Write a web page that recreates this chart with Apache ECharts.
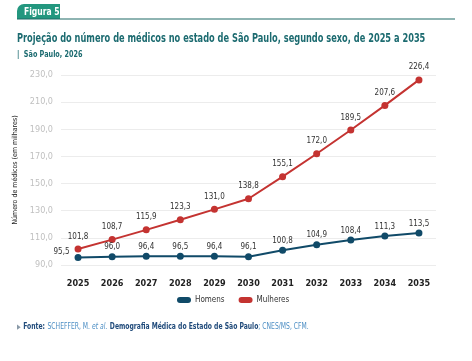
<!DOCTYPE html>
<html><head><meta charset="utf-8">
<script src="https://cdn.jsdelivr.net/npm/echarts@6/dist/echarts.min.js"></script>
<style>html,body{margin:0;padding:0;background:#fff}#c{width:472px;height:361px}</style>
</head><body><div id="c"></div>
<script>
var years = ['2025','2026','2027','2028','2029','2030','2031','2032','2033','2034','2035'];
var homens = [95.5, 96.0, 96.4, 96.5, 96.4, 96.1, 100.8, 104.9, 108.4, 111.3, 113.5];
var mulheres = [101.8, 108.7, 115.9, 123.3, 131.0, 138.8, 155.1, 172.0, 189.5, 207.6, 226.4];
var FONT = "'DejaVu Sans Condensed',sans-serif";
function fmt(v){ return v.toFixed(1).replace('.', ','); }
var homensData = homens.map(function(v, i){
  return i === 0 ? {value:v, label:{position:'left', distance:5, offset:[0,-6]}} : v;
});
var chart = echarts.init(document.getElementById('c'), null, {renderer:'canvas'});
chart.setOption({
  animation:false,
  textStyle:{fontFamily:FONT},
  graphic:[
    {type:'rect', shape:{x:17,y:4,width:43,height:15,r:[7,0,0,0]}, style:{fill:'#23977f'}},
    {type:'text', x:24, y:12, scaleX:0.85, style:{text:'Figura 5', font:'bold 10px '+FONT, fill:'#fff', verticalAlign:'middle'}},
    {type:'line', shape:{x1:17,y1:19,x2:455,y2:19}, style:{stroke:'#1e6a67', lineWidth:1.2}},
    {type:'text', x:17, y:38.5, scaleX:0.705, style:{
      text:'Projeção do número de médicos no estado de São Paulo, segundo sexo, de 2025 a 2035',
      font:'bold 13px '+FONT, fill:'#1c6b70', verticalAlign:'middle'}},
    {type:'text', x:17, y:54.5, scaleX:0.8, style:{
      text:'|  São Paulo, 2026', font:'bold 9px '+FONT, fill:'#1c6b70', verticalAlign:'middle'}},
    {type:'text', x:17, y:327, scaleX:0.75, style:{
      verticalAlign:'middle',
      text:'{tri|▶} {b|Fonte:} {l|SCHEFFER, M. }{li|et al.} {b|Demografia Médica do Estado de São Paulo}{l|; CNES/MS, CFM.}',
      rich:{
        tri:{fontSize:7, fill:'#8a9aa8', fontFamily:FONT},
        b:{fontSize:9, fontWeight:'bold', fill:'#1f4a7a', fontFamily:FONT},
        l:{fontSize:9, fill:'#4c8ec4', fontFamily:FONT},
        li:{fontSize:9, fontStyle:'italic', fill:'#4c8ec4', fontFamily:FONT}
      }}}
  ],
  legend:{
    data:['Homens','Mulheres'], left:172, top:291, itemWidth:14, itemHeight:6, itemGap:14,
    icon:'path://M3,0 L11,0 A3,3 0 0 1 11,6 L3,6 A3,3 0 0 1 3,0 Z',
    textStyle:{fontFamily:FONT, fontSize:8, color:'#333', padding:[0,0,0,-1]}
  },
  grid:{left:61, right:36, top:75, bottom:361-265},
  xAxis:{
    type:'category', data:years, boundaryGap:true,
    axisLine:{show:false}, axisTick:{show:false},
    axisLabel:{margin:14, fontFamily:FONT, fontSize:9, fontWeight:'bold', color:'#222'}
  },
  yAxis:{
    type:'value', min:90, max:230, interval:20,
    name:'Número de médicos (em milhares)', nameLocation:'middle', nameGap:31,
    nameTextStyle:{fontFamily:FONT, fontSize:7, color:'#222'},
    axisLine:{show:false}, axisTick:{show:false},
    axisLabel:{fontFamily:FONT, fontSize:9, color:'#c0c0c0', margin:8, formatter:function(v){return fmt(v);}},
    splitLine:{lineStyle:{color:'#ececec', width:1}}
  },
  series:[{
    name:'Homens', type:'line', data:homensData, color:'#104a68',
    symbol:'circle', symbolSize:7, lineStyle:{width:2},
    label:{show:true, position:'top', distance:2, fontFamily:FONT, fontSize:8, color:'#333', formatter:function(p){return fmt(p.value);}}
  },{
    name:'Mulheres', type:'line', data:mulheres, color:'#c43331',
    symbol:'circle', symbolSize:7, lineStyle:{width:2},
    label:{show:true, position:'top', distance:5, fontFamily:FONT, fontSize:8, color:'#333', formatter:function(p){return fmt(p.value);}}
  }]
});
</script></body></html>
